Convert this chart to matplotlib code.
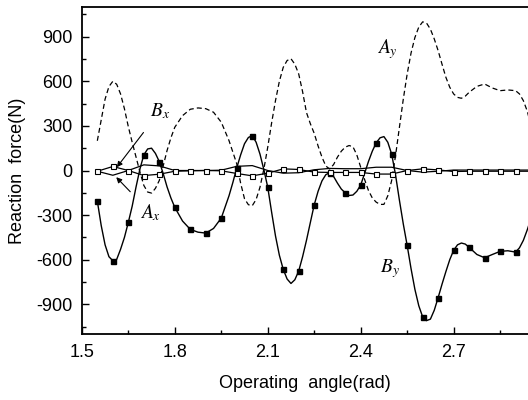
import numpy as np
import matplotlib.pyplot as plt
from matplotlib.ticker import MultipleLocator

plt.rcParams['font.family'] = ['Liberation Sans', 'DejaVu Sans']
plt.rcParams['mathtext.fontset'] = 'stix'
plt.rcParams['axes.unicode_minus'] = False

# A_y (dashed); denser where the curve bends
x_ay = [1.55, 1.5625, 1.575, 1.5875, 1.60, 1.6125, 1.625, 1.6375, 1.65, 1.6625,
        1.675, 1.6875, 1.70, 1.7125, 1.725, 1.7375, 1.75, 1.7625, 1.775, 1.7875,
        1.80, 1.825, 1.85, 1.875, 1.90, 1.925, 1.95, 1.975, 2.00, 2.0125,
        2.025, 2.0375, 2.05, 2.0625, 2.075, 2.0875, 2.10, 2.1125, 2.125, 2.1375,
        2.15, 2.1625, 2.175, 2.1875, 2.20, 2.2125, 2.225, 2.2375, 2.25, 2.2625,
        2.275, 2.2875, 2.30, 2.3125, 2.325, 2.3375, 2.35, 2.3625, 2.375, 2.3875,
        2.40, 2.4125, 2.425, 2.4375, 2.45, 2.4625, 2.475, 2.4875, 2.50, 2.5125,
        2.525, 2.5375, 2.55, 2.5625, 2.575, 2.5875, 2.60, 2.6125, 2.625, 2.6375,
        2.65, 2.6625, 2.675, 2.6875, 2.70, 2.7125, 2.725, 2.7375, 2.75, 2.775,
        2.80, 2.825, 2.85, 2.875, 2.90, 2.9125, 2.925, 2.9375, 2.95]
Ay = [200, 340, 480, 565, 600, 580, 515, 415, 295, 190,
      90, -10, -100, -145, -152, -120, -67, 30, 134, 220,
      291, 369, 412, 421, 416, 392, 325, 201, 45, -85,
      -190, -230, -237, -195, -112, 10, 157, 320, 470, 600,
      694, 740, 752, 715, 649, 530, 390, 315, 250, 165,
      90, 30, 10, 40, 90, 130, 157, 168, 160, 105,
      22, -60, -134, -185, -213, -228, -228, -170, -67, 100,
      291, 480, 649, 790, 895, 965, 1000, 992, 951, 885,
      806, 715, 627, 560, 515, 492, 486, 500, 526, 566,
      582, 555, 537, 542, 537, 515, 470, 400, 300]

# B_y (solid, filled squares every 0.05 rad)
x_by = [1.55, 1.5625, 1.575, 1.5875, 1.60, 1.6125, 1.625, 1.6375, 1.65, 1.6625,
        1.675, 1.6875, 1.70, 1.7125, 1.725, 1.7375, 1.75, 1.7625, 1.775, 1.7875,
        1.80, 1.825, 1.85, 1.875, 1.90, 1.925, 1.95, 1.975, 1.9875, 2.00,
        2.0125, 2.025, 2.0375, 2.05, 2.0625, 2.075, 2.0875, 2.10, 2.1125, 2.125,
        2.1375, 2.15, 2.1625, 2.175, 2.1875, 2.20, 2.2125, 2.225, 2.2375, 2.25,
        2.2625, 2.275, 2.2875, 2.30, 2.3125, 2.325, 2.3375, 2.35, 2.3625, 2.375,
        2.3875, 2.40, 2.4125, 2.425, 2.4375, 2.45, 2.4625, 2.475, 2.4875, 2.50,
        2.5125, 2.525, 2.5375, 2.55, 2.5625, 2.575, 2.5875, 2.60, 2.6125, 2.625,
        2.6375, 2.65, 2.6625, 2.675, 2.6875, 2.70, 2.7125, 2.725, 2.7375, 2.75,
        2.775, 2.80, 2.825, 2.85, 2.875, 2.90, 2.9125, 2.925, 2.9375, 2.95]
By = [-206, -370, -500, -580, -607, -598, -530, -450, -349, -240,
      -110, 10, 105, 145, 150, 115, 60, -20, -110, -185,
      -248, -340, -396, -415, -421, -390, -320, -170, -80, 18,
      105, 180, 222, 235, 190, 110, 5, -112, -280, -440,
      -570, -665, -730, -760, -735, -676, -580, -470, -350, -231,
      -140, -70, -28, -15, -40, -85, -125, -150, -168, -165,
      -140, -98, -20, 60, 130, 186, 220, 228, 190, 110,
      -30, -200, -360, -504, -660, -800, -910, -985, -1010, -1000,
      -940, -855, -765, -680, -600, -537, -500, -488, -495, -517,
      -565, -587, -565, -544, -540, -549, -520, -470, -400, -320]

# x components, read every 0.05 rad
x_coarse = [1.55, 1.60, 1.65, 1.70, 1.75, 1.80, 1.85, 1.90, 1.95, 2.00,
            2.05, 2.10, 2.15, 2.20, 2.25, 2.30, 2.35, 2.40, 2.45, 2.50,
            2.55, 2.60, 2.65, 2.70, 2.75, 2.80, 2.85, 2.90, 2.95]
Bx = [-5, 27, 0, -34, -25, -5, -2, 0, -2, -20,
      -36, -18, 11, 7, -11, -13, -13, -13, -24, -24,
      0, 11, 4, -7, -5, -5, -5, -5, -5]
Ax = [-5, -32, 0, 38, 31, 0, 0, 0, 2, 28,
      33, 0, -18, -15, 5, 14, 12, 12, 22, 22,
      0, -11, -5, 3, 3, 3, 3, 3, 3]

by_marks = [i for i, v in enumerate(x_by) if abs(v * 20 - round(v * 20)) < 1e-6]

fig = plt.figure(figsize=(5.28, 4.0), dpi=100)
ax = fig.add_axes([0.155, 0.165, 0.845, 0.8175])

ax.plot(x_ay, Ay, color='black', lw=0.9, dashes=(4, 2.5))
ax.plot(x_by, By, color='black', lw=1.0, marker='s', ms=3.6,
        markevery=by_marks, mfc='black', mec='black')
ax.plot(x_coarse, Ax, color='black', lw=0.9)
ax.plot(x_coarse, Bx, color='black', lw=0.9, marker='s', ms=3.6,
        mfc='white', mec='black', mew=0.8)

ax.set_xlim(1.5, 2.94)
ax.set_ylim(-1100, 1100)
ax.xaxis.set_minor_locator(MultipleLocator(0.15))
ax.yaxis.set_minor_locator(MultipleLocator(150))
ax.set_xticks([1.5, 1.8, 2.1, 2.4, 2.7])
ax.set_yticks([-900, -600, -300, 0, 300, 600, 900])
ax.tick_params(which='both', direction='in', top=False, right=False,
               labelsize=13, width=1.0, pad=7)
ax.tick_params(which='major', length=5)
ax.tick_params(which='minor', length=3)
for s in ['left', 'bottom', 'top']:
    ax.spines[s].set_linewidth(1.3)
ax.spines['right'].set_visible(False)

ax.set_xlabel('Operating  angle(rad)', fontsize=13, labelpad=10)
ax.set_ylabel('Reaction  force(N)', fontsize=13, labelpad=7)

lab = dict(fontsize=14, ha='center', va='center')
ax.text(2.487, 817, r'$A_y$', **lab)
ax.text(2.493, -660, r'$B_y$', **lab)
ax.annotate(r'$B_x$', xy=(1.613, 22), xytext=(1.752, 400),
            ha='center', va='center', fontsize=14,
            arrowprops=dict(arrowstyle='-|>', color='black', lw=0.8,
                            mutation_scale=8, shrinkA=8, shrinkB=0))
ax.annotate(r'$A_x$', xy=(1.611, -45), xytext=(1.722, -285),
            ha='center', va='center', fontsize=14,
            arrowprops=dict(arrowstyle='-|>', color='black', lw=0.8,
                            mutation_scale=8, shrinkA=8, shrinkB=0))

fig.savefig('out.png', dpi=100)
